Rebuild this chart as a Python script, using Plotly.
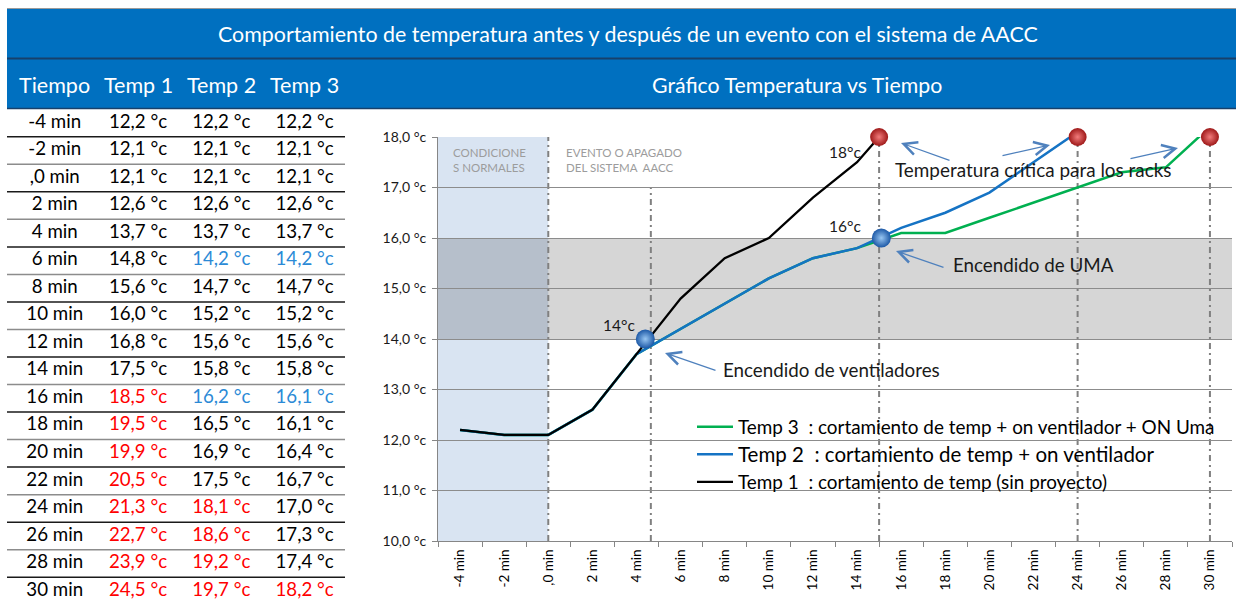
import plotly.graph_objects as go

# ---------------------------------------------------------------------------
# Data
# ---------------------------------------------------------------------------
tiempos = [-4, -2, 0, 2, 4, 6, 8, 10, 12, 14, 16, 18, 20, 22, 24, 26, 28, 30]
etiquetas_tiempo = ["-4 min", "-2 min", ",0 min", "2 min", "4 min", "6 min",
                    "8 min", "10 min", "12 min", "14 min", "16 min", "18 min",
                    "20 min", "22 min", "24 min", "26 min", "28 min", "30 min"]

temp1 = [12.2, 12.1, 12.1, 12.6, 13.7, 14.8, 15.6, 16.0, 16.8, 17.5,
         18.5, 19.5, 19.9, 20.5, 21.3, 22.7, 23.9, 24.5]
temp2 = [12.2, 12.1, 12.1, 12.6, 13.7, 14.2, 14.7, 15.2, 15.6, 15.8,
         16.2, 16.5, 16.9, 17.5, 18.1, 18.6, 19.2, 19.7]
temp3 = [12.2, 12.1, 12.1, 12.6, 13.7, 14.2, 14.7, 15.2, 15.6, 15.8,
         16.1, 16.1, 16.4, 16.7, 17.0, 17.3, 17.4, 18.2]

leyenda_temp1 = "Temp 1  : cortamiento de temp (sin proyecto)"
leyenda_temp2 = "<span style='font-size:20.5px'>Temp 2  : cortamiento de temp + on ventilador</span>"
leyenda_temp3 = "Temp 3  : cortamiento de temp + on ventilador + ON Uma"

temp_critica = 18.0
minutos_encendido = [6, 16]          # fans on / UMA on

y_ticks = [10, 11, 12, 13, 14, 15, 16, 17, 18]
y_etiquetas = ["10,0 °c", "11,0 °c", "12,0 °c", "13,0 °c", "14,0 °c",
               "15,0 °c", "16,0 °c", "17,0 °c", "18,0 °c"]

# event markers on the chart
criticos_t = [15, 24, 30]
criticos_v = [18.0, 18.0, 18.0]
encendido_t = [4.4, 15.1]
encendido_v = [14.0, 16.0]
guias_t = [0, 4.65, 15, 24, 30]
guias_top = [18, 17, 18, 18, 18]

# ---------------------------------------------------------------------------
W, H = 1236, 602
FONT = "Lato"
AZUL = "#0070c0"
TXT = "#1a1a1a"


def fx(p):
    return p / W


def fy(p):
    return 1 - p / H


def fmt(v):
    return f"{v:.1f}".replace(".", ",") + " °c"


fig = go.Figure()

# --- chart lines ------------------------------------------------------------
fig.add_trace(go.Scatter(x=tiempos, y=temp3, mode="lines", name=leyenda_temp3,
                         legendgroup="t3", line=dict(color="#00b050", width=2.5)))
fig.add_trace(go.Scatter(x=tiempos, y=temp2, mode="lines", name=leyenda_temp2,
                         legendgroup="t2", line=dict(color="#1573c4", width=2.5)))
fig.add_trace(go.Scatter(x=tiempos, y=temp1, mode="lines", name=leyenda_temp1,
                         legendgroup="t1", line=dict(color="#000000", width=2.3)))

# spheres: critical temperature and switch-on points
fig.add_trace(go.Scatter(
    x=criticos_t, y=criticos_v, mode="markers", showlegend=False, cliponaxis=False,
    hoverinfo="skip",
    marker=dict(size=18, color="#9e1818", line=dict(width=0),
                gradient=dict(type="radial", color="#f27c7c"))))
fig.add_trace(go.Scatter(
    x=encendido_t, y=encendido_v, mode="markers", showlegend=False, cliponaxis=False,
    hoverinfo="skip",
    marker=dict(size=19, color="#1c58a6", line=dict(width=0),
                gradient=dict(type="radial", color="#98c6f2"))))

# --- table drawn as text on its own hidden axes ------------------------------
filas = list(range(len(tiempos)))


def color_celda(v, serie, t):
    if v >= temp_critica:
        return "#ff0000"
    if serie > 1 and t in minutos_encendido:
        return "#2b8ad6"
    return "#000000"


columnas = [
    (etiquetas_tiempo, ["#000000"] * len(tiempos)),
    ([fmt(v) for v in temp1], [color_celda(v, 1, t) for v, t in zip(temp1, tiempos)]),
    ([fmt(v) for v in temp2], [color_celda(v, 2, t) for v, t in zip(temp2, tiempos)]),
    ([fmt(v) for v in temp3], [color_celda(v, 3, t) for v, t in zip(temp3, tiempos)]),
]
for i, (textos, colores) in enumerate(columnas):
    fig.add_trace(go.Scatter(
        x=[i] * len(textos), y=filas, text=textos, mode="text",
        textposition="middle center", xaxis="x2", yaxis="y2",
        textfont=dict(family=FONT, size=18.7, color=colores),
        showlegend=False, hoverinfo="skip"))

shapes = []

# header bands
shapes.append(dict(type="rect", xref="paper", yref="paper",
                   x0=fx(7), x1=1, y0=fy(108), y1=fy(9),
                   fillcolor=AZUL, line=dict(width=0), layer="below"))
shapes.append(dict(type="line", xref="paper", yref="paper",
                   x0=fx(7), x1=1, y0=fy(8.5), y1=fy(8.5),
                   line=dict(color="#9a9a9a", width=1)))
shapes.append(dict(type="line", xref="paper", yref="paper",
                   x0=fx(7), x1=1, y0=fy(58.5), y1=fy(58.5),
                   line=dict(color="#17406b", width=2)))
shapes.append(dict(type="line", xref="paper", yref="paper",
                   x0=fx(7), x1=1, y0=fy(108.5), y1=fy(108.5),
                   line=dict(color="#17406b", width=1.5)))

# table row separators
for r in filas:
    shapes.append(dict(type="line", xref="x2", yref="y2",
                       x0=-0.573, x1=3.485, y0=r + 0.5, y1=r + 0.5,
                       line=dict(color="#1a1a1a" if r % 2 == 0 else "#8c8c8c",
                                 width=1.5)))

# chart background zones
shapes.append(dict(type="rect", xref="x", yref="y", x0=-5, x1=0, y0=10, y1=18,
                   fillcolor="#d9e4f2", line=dict(width=0), layer="below"))
shapes.append(dict(type="rect", xref="x", yref="y", x0=-5, x1=31, y0=14, y1=16,
                   fillcolor="rgba(0,0,0,0.16)", line=dict(width=0), layer="below"))

# dash-dot event guides
for t, top in zip(guias_t, guias_top):
    shapes.append(dict(type="line", xref="x", yref="y", x0=t, x1=t, y0=10, y1=top,
                       line=dict(color="#808080", width=2, dash="6px,4px,2px,4px"),
                       layer="below"))

annotations = []


def nota(text, x, y, size, color=TXT, xanchor="center", yanchor="middle",
         xref="paper", yref="paper", **kw):
    annotations.append(dict(text=text, x=x, y=y, xref=xref, yref=yref,
                            xanchor=xanchor, yanchor=yanchor, showarrow=False,
                            font=dict(family=FONT, size=size, color=color), **kw))


# header texts
nota("Comportamiento de temperatura antes y después de un evento con el sistema de AACC",
     fx(628), fy(34), 21.4, "white")
nota("Gráfico Temperatura vs Tiempo", fx(797), fy(85), 21.3, "white")
for i, titulo in enumerate(["Tiempo", "Temp 1", "Temp 2", "Temp 3"]):
    nota(titulo, i, fy(85), 21.5, "white", xref="x2")

# zone labels
nota("CONDICIONE<br>S NORMALES", fx(451), fy(144), 11.5, "#9c9c9c",
     xanchor="left", yanchor="top", align="left")
nota("EVENTO O APAGADO<br>DEL SISTEMA  AACC", fx(564), fy(144), 11.5, "#9c9c9c",
     xanchor="left", yanchor="top", align="left")

# temperature labels next to spheres
nota("14°c", encendido_t[0], encendido_v[0], 15.5, xref="x", yref="y",
     xanchor="right", yanchor="bottom", xshift=-8, yshift=3)
nota("16°c", encendido_t[1], encendido_v[1], 15.5, xref="x", yref="y",
     xanchor="right", yanchor="bottom", xshift=-18, yshift=1)
nota("18°c", criticos_t[0], criticos_v[0], 15.5, xref="x", yref="y",
     xanchor="right", yanchor="top", xshift=-16, yshift=-4)

# callout texts
nota("Temperatura crítica para los racks", fx(1033), fy(169), 18.9)
nota("Encendido de UMA", fx(951), fy(264), 18.8, xanchor="left")
nota("Encendido de ventiladores", fx(721), fy(369), 18.8, xanchor="left")

# callout arrows (head, tail) in pixels
flechas = [((901, 143), (951, 161)),
           ((1050, 145), (1001, 156)),
           ((1178, 148), (1129, 159)),
           ((896, 251), (945, 268)),
           ((665, 353), (717, 371))]
for (hx, hy), (tx, ty) in flechas:
    annotations.append(dict(text="", x=fx(hx), y=fy(hy), xref="paper", yref="paper",
                            ax=tx - hx, ay=ty - hy, showarrow=True, arrowhead=5,
                            arrowsize=2, arrowwidth=1.3, arrowcolor="#4f81bd",
                            standoff=0, startstandoff=0))

fig.update_layout(
    width=W, height=H, margin=dict(l=0, r=0, t=0, b=0, autoexpand=False),
    paper_bgcolor="white", plot_bgcolor="white",
    font=dict(family=FONT, color="#000000"),
    xaxis=dict(domain=[fx(438), fx(1232)], range=[-5, 31], automargin=False,
               tickmode="array", tickvals=tiempos, ticktext=etiquetas_tiempo,
               tickangle=-90, ticks="", showgrid=False, zeroline=False,
               showline=True, linecolor="#868686", linewidth=1,
               tickfont=dict(family=FONT, size=13.5, color="#000000"),
               ticklabelstandoff=2,
               minor=dict(tickmode="linear", tick0=-5, dtick=2, ticks="outside",
                          ticklen=5, tickcolor="#868686", showgrid=False),
               fixedrange=True),
    yaxis=dict(domain=[fy(541), fy(137)], range=[10, 18], automargin=False,
               tickmode="array", tickvals=y_ticks, ticktext=y_etiquetas,
               showgrid=True, gridcolor="#8c8c8c", gridwidth=1, zeroline=False,
               showline=True, linecolor="#868686", ticks="outside", ticklen=5,
               tickcolor="#868686", ticklabelstandoff=3,
               tickfont=dict(family=FONT, size=14, color=TXT),
               fixedrange=True),
    xaxis2=dict(domain=[fx(7), fx(345)], range=[-0.573, 3.485], visible=False,
                automargin=False, fixedrange=True),
    yaxis2=dict(domain=[0, fy(109)], range=[17.4, -0.509], visible=False,
                automargin=False, fixedrange=True),
    legend=dict(x=fx(692), y=fy(408), xanchor="left", yanchor="top",
                bgcolor="rgba(0,0,0,0)", traceorder="grouped", tracegroupgap=0,
                itemwidth=36,
                font=dict(family=FONT, size=18.9, color="#000000")),
    shapes=shapes,
    annotations=annotations,
)

fig.write_html("out.html", config={"displayModeBar": False})
